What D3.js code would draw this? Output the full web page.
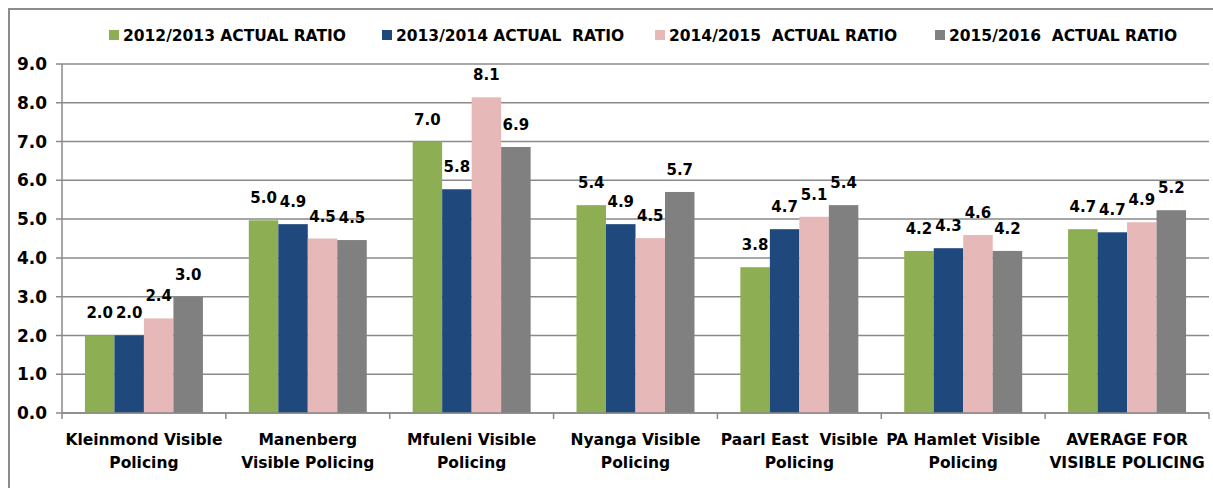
<!DOCTYPE html>
<html>
<head>
<meta charset="utf-8">
<script src="https://cdn.jsdelivr.net/npm/d3@7"></script>
<style>
  body { margin: 0; background: #fff; }
  text { font-family: "DejaVu Sans", sans-serif; font-weight: bold; fill: #000; white-space: pre; }
</style>
</head>
<body>
<div id="chart"></div>
<script>
// categories (two-line labels)
const categories = [
  ["Kleinmond Visible", "Policing"],
  ["Manenberg", "Visible Policing"],
  ["Mfuleni Visible", "Policing"],
  ["Nyanga Visible", "Policing"],
  ["Paarl East  Visible", "Policing"],
  ["PA Hamlet Visible", "Policing"],
  ["AVERAGE FOR", "VISIBLE POLICING"]
];
const seriesNames = [
  "2012/2013 ACTUAL RATIO",
  "2013/2014 ACTUAL  RATIO",
  "2014/2015  ACTUAL RATIO",
  "2015/2016  ACTUAL RATIO"
];
const seriesColors = ["#8DAE53", "#1F497D", "#E6B9B8", "#808080"];

// values per series, in category order
const ratio2012 = [2.0, 4.97, 7.0, 5.36, 3.76, 4.18, 4.74];
const ratio2013 = [2.0, 4.87, 5.77, 4.87, 4.74, 4.25, 4.66];
const ratio2014 = [2.44, 4.5, 8.14, 4.51, 5.06, 4.59, 4.92];
const ratio2015 = [3.0, 4.46, 6.86, 5.70, 5.36, 4.18, 5.23];
const seriesValues = [ratio2012, ratio2013, ratio2014, ratio2015];

const yTicks = [0, 1, 2, 3, 4, 5, 6, 7, 8, 9];

const width = 1213, height = 488;
const margin = { left: 62, right: 4, top: 64, bottom: 75 };

const svg = d3.select("#chart").append("svg")
  .attr("width", width)
  .attr("height", height);

// outer chart border
svg.append("path")
  .attr("d", `M9,${height} V9 H${width}`)
  .attr("fill", "none")
  .attr("stroke", "#8c8c8c")
  .attr("stroke-width", 2);

const x0 = d3.scaleBand()
  .domain(d3.range(categories.length))
  .range([margin.left, width - margin.right])
  .paddingInner(0.28)
  .paddingOuter(0.14);

const step = x0.step();

const x1 = d3.scaleBand()
  .domain(d3.range(seriesNames.length))
  .range([0, x0.bandwidth()]);

const y = d3.scaleLinear()
  .domain([0, 9])
  .range([height - margin.bottom, margin.top]);

// gridlines with left tick stubs
svg.append("g")
  .selectAll("line")
  .data(yTicks)
  .join("line")
    .attr("x1", margin.left - 6)
    .attr("x2", width - margin.right)
    .attr("y1", d => y(d))
    .attr("y2", d => y(d))
    .attr("stroke", "#8a8a8a")
    .attr("stroke-width", 1.5);

// y tick labels
svg.append("g")
  .selectAll("text")
  .data(yTicks)
  .join("text")
    .attr("x", 47)
    .attr("y", d => y(d))
    .attr("dy", "0.36em")
    .attr("text-anchor", "end")
    .style("font-size", "17px")
    .text(d => d.toFixed(1));

// bars
const groups = svg.append("g")
  .selectAll("g")
  .data(categories)
  .join("g")
    .attr("transform", (d, i) => `translate(${x0(i)},0)`);

groups.selectAll("rect")
  .data((d, i) => seriesValues.map((s, k) => ({ k, v: s[i] })))
  .join("rect")
    .attr("x", d => x1(d.k))
    .attr("width", x1.bandwidth())
    .attr("y", d => y(d.v))
    .attr("height", d => y(0) - y(d.v))
    .attr("fill", d => seriesColors[d.k]);

groups.selectAll("text.val")
  .data((d, i) => seriesValues.map((s, k) => ({ k, v: s[i] })))
  .join("text")
    .attr("class", "val")
    .attr("x", d => x1(d.k) + x1.bandwidth() / 2)
    .attr("y", d => y(d.v) - 17)
    .attr("text-anchor", "middle")
    .style("font-size", "15px")
    .text(d => d.v.toFixed(1));

// axes lines
svg.append("line")
  .attr("x1", margin.left).attr("x2", margin.left)
  .attr("y1", y(9)).attr("y2", y(0))
  .attr("stroke", "#8a8a8a").attr("stroke-width", 1.5);

svg.append("line")
  .attr("x1", margin.left).attr("x2", width - margin.right)
  .attr("y1", y(0)).attr("y2", y(0))
  .attr("stroke", "#8a8a8a").attr("stroke-width", 1.5);

// category boundary ticks
svg.append("g")
  .selectAll("line")
  .data(d3.range(categories.length + 1))
  .join("line")
    .attr("x1", i => margin.left + i * step)
    .attr("x2", i => margin.left + i * step)
    .attr("y1", y(0))
    .attr("y2", y(0) + 6)
    .attr("stroke", "#8a8a8a")
    .attr("stroke-width", 1.5);

// category labels
const catLabels = svg.append("g")
  .selectAll("text")
  .data(categories)
  .join("text")
    .attr("x", (d, i) => margin.left + (i + 0.5) * step)
    .attr("y", y(0) + 32)
    .attr("text-anchor", "middle")
    .style("font-size", "15.5px");

catLabels.selectAll("tspan")
  .data(d => d)
  .join("tspan")
    .attr("x", function () { return this.parentNode.getAttribute("x"); })
    .attr("dy", (d, i) => i === 0 ? 0 : 23)
    .text(d => d);

// legend
const legendX = [109, 382, 655, 935];
const legend = svg.append("g")
  .selectAll("g")
  .data(seriesNames)
  .join("g")
    .attr("transform", (d, i) => `translate(${legendX[i]},35)`);

legend.append("rect")
  .attr("x", 0).attr("y", -5)
  .attr("width", 10).attr("height", 10)
  .attr("fill", (d, i) => seriesColors[i]);

legend.append("text")
  .attr("x", 14)
  .attr("dy", "0.36em")
  .style("font-size", "15.5px")
  .text(d => d);
</script>
</body>
</html>
